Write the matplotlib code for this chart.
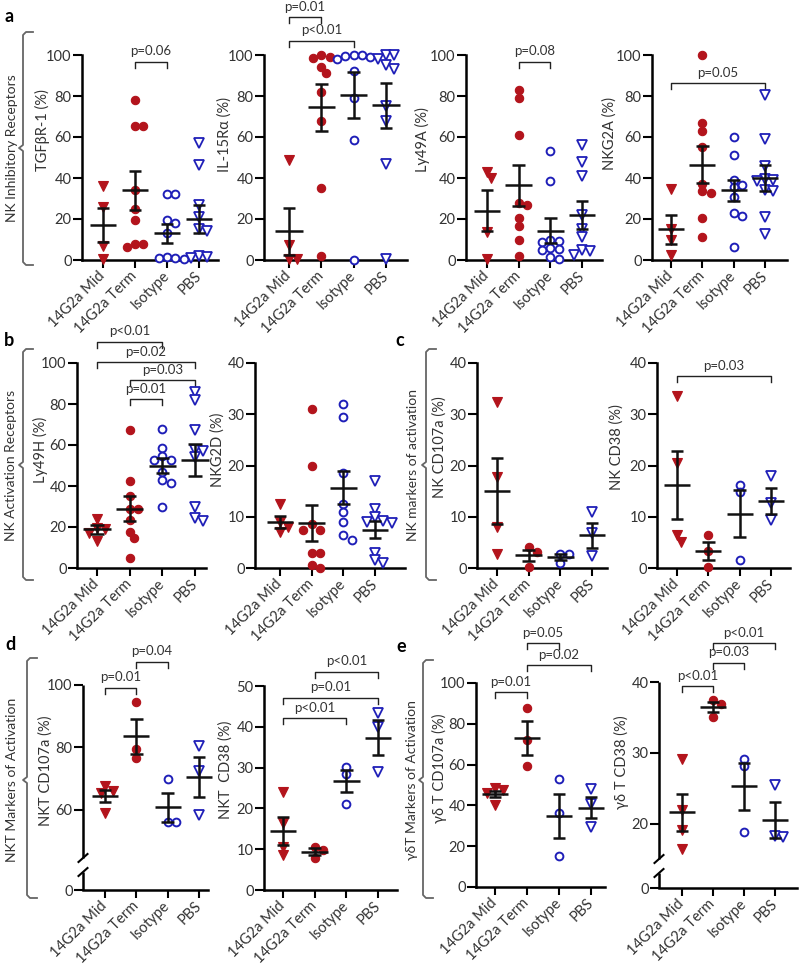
import numpy as np
import matplotlib
matplotlib.use('Agg')
import matplotlib.pyplot as plt
from matplotlib.lines import Line2D

plt.rcParams['font.family'] = ['Lato', 'DejaVu Sans']

groups = ['14G2a Mid', '14G2a Term', 'Isotype', 'PBS']

# a: NK inhibitory receptors
tgfbr1_pts = [[36, 26, 7, 0.5],
              [78, 65.5, 65.5, 34, 25, 19.5, 8, 8, 6.5],
              [32, 32, 19.5, 18, 13, 1.5, 1, 1, 0.5],
              [57, 46.5, 27, 21, 15, 14, 2, 1.5, 1]]
tgfbr1_mean = [17, 34, 13, 20]
tgfbr1_sem = [8.3, 9.4, 4.5, 7]

il15ra_pts = [[49, 7.5, 0.5, 0.5],
              [100, 99, 98.5, 94, 91, 82, 68, 35, 2],
              [100, 100, 99.5, 99, 98, 92, 79, 58.5, 0],
              [100, 100, 98, 95, 93, 75, 68, 47, 0.5]]
il15ra_mean = [14, 74.5, 80.5, 75.5]
il15ra_sem = [11.5, 11.5, 11, 11]

ly49a_pts = [[40, 43, 13.5, 0.5],
             [83, 79, 61, 28, 27, 20.5, 16.5, 10, 2],
             [53, 38.5, 10, 9.5, 9, 6, 5.5, 5, 1.5, 0.5],
             [56, 48, 41, 22, 15, 11, 5, 4.5, 2.5]]
ly49a_mean = [24, 36.5, 14.3, 22]
ly49a_sem = [10, 10, 6, 7]

nkg2a_pts = [[34.5, 15, 10, 2.5],
             [100, 67, 63, 55, 37, 33.5, 32.5, 20.5, 11],
             [60, 51, 39, 36.5, 35.5, 30.5, 23, 21.5, 6.5],
             [80.5, 59, 46, 39.5, 39, 38.5, 34, 33.5, 21, 12.5]]
nkg2a_mean = [15, 46.5, 34, 40]
nkg2a_sem = [7, 9, 5, 6.5]

# b: NK activation receptors
ly49h_pts = [[24, 19.5, 19, 17, 13],
             [67.5, 42.5, 35, 29, 29, 23.5, 17.5, 14.5, 5],
             [68, 58.5, 54.5, 52.5, 52.5, 47, 43, 41.5, 30],
             [86, 82, 67.5, 57.5, 57, 54, 30, 24.5, 23]]
ly49h_mean = [18.8, 29, 50, 52.5]
ly49h_sem = [2, 6, 3.5, 7.8]

nkg2d_pts = [[12.5, 9, 8, 7],
             [31, 20, 8.5, 7.5, 7.5, 3, 3, 0.5, 0],
             [32, 29.5, 18.5, 12.5, 11, 9, 6.5, 5.5],
             [17, 11.5, 10, 9.2, 9, 8.7, 3, 1.5, 1]]
nkg2d_mean = [9, 8.8, 15.7, 7.5]
nkg2d_sem = [1.2, 3.5, 3.2, 1.7]

# c: NK markers of activation
nk_cd107a_pts = [[32.3, 17.7, 8, 2.7], [4.1, 3.1, 0.2], [2.8, 2.8, 1], [11, 6.8, 2.3]]
nk_cd107a_mean = [15, 2.5, 2.1, 6.4]
nk_cd107a_sem = [6.5, 1.1, 0.6, 2.4]

nk_cd38_pts = [[33.5, 20.5, 6.4, 5.1], [6.4, 3.3, 0.2], [16.2, 14.8, 1.6], [18, 12.6, 9.3]]
nk_cd38_mean = [16.2, 3.3, 10.6, 13.1]
nk_cd38_sem = [6.6, 1.7, 4.6, 2.6]

# d: NKT markers of activation
nkt_cd107a_pts = [[67.5, 66, 65.5, 59], [94.5, 79.5, 76.5], [70, 56, 56], [80.5, 72.5, 58.5]]
nkt_cd107a_mean = [64.4, 83.5, 60.8, 70.5]
nkt_cd107a_sem = [1.9, 5.5, 4.6, 6.5]

nkt_cd38_pts = [[24, 16.5, 10.5, 8.5], [10.5, 9.8, 7.9], [30.2, 28.4, 21.2], [43.5, 40, 28.8]]
nkt_cd38_mean = [14.5, 9.4, 26.6, 37.3]
nkt_cd38_sem = [3.5, 0.8, 2.7, 4.3]

# e: gamma delta T markers of activation
gdt_cd107a_pts = [[48.5, 47.5, 46, 40], [87.8, 72, 59.3], [52.8, 36.5, 15.3], [47.9, 40.7, 29.6]]
gdt_cd107a_mean = [45.6, 73, 34.9, 38.8]
gdt_cd107a_sem = [1.4, 8.2, 10.9, 5.2]

gdt_cd38_pts = [[29.1, 21.9, 19.1, 16.5], [37.5, 36.9, 35], [29.2, 28.1, 18.8], [25.5, 18.1, 18.2]]
gdt_cd38_mean = [21.6, 36.5, 25.3, 20.5]
gdt_cd38_sem = [2.6, 0.7, 3.3, 2.5]

# significance brackets: (group i, group j, height, text)
tgfbr1_sig = [(1, 2, 96.7, 'p=0.06')]
il15ra_sig = [(0, 1, 118.4, 'p=0.01'), (0, 2, 107, 'p<0.01')]
ly49a_sig = [(1, 2, 96.7, 'p=0.08')]
nkg2a_sig = [(0, 3, 86.2, 'p=0.05')]
ly49h_sig = [(0, 2, 110.3, 'p<0.01'), (0, 3, 100.5, 'p=0.02'),
             (1, 3, 91.5, 'p=0.03'), (1, 2, 82.4, 'p=0.01')]
nk_cd38_sig = [(0, 3, 37.4, 'p=0.03')]
nkt_cd107a_sig = [(0, 1, 99.1, 'p=0.01'), (1, 2, 107.5, 'p=0.04')]
nkt_cd38_sig = [(0, 2, 42.1, 'p<0.01'), (0, 3, 47.1, 'p=0.01'), (1, 3, 53.5, 'p<0.01')]
gdt_cd107a_sig = [(0, 1, 95.6, 'p=0.01'), (1, 3, 108.6, 'p=0.02'), (1, 2, 119.5, 'p=0.05')]
gdt_cd38_sig = [(0, 1, 39.4, 'p<0.01'), (1, 2, 42.7, 'p=0.03'), (1, 3, 45.5, 'p<0.01')]

RED = '#b3141c'
BLUE = '#1f1fb8'
TXT = '#333333'
styles = [dict(marker='v', mfc=RED, mec=RED, mew=0.8, ms=6.5),
          dict(marker='o', mfc=RED, mec=RED, mew=0.8, ms=6),
          dict(marker='o', mfc='white', mec=BLUE, mew=1.4, ms=5.6),
          dict(marker='v', mfc='white', mec=BLUE, mew=1.3, ms=6.5)]

W, H = 800, 967
fig = plt.figure(figsize=(W / 100, H / 100), dpi=100)


def swarm(ax, x0, vals, diam=7.6):
    ys = ax.transData.transform(np.column_stack([np.full(len(vals), x0), vals]))[:, 1]
    placed, offs = [], np.zeros(len(vals))
    for i in np.argsort(-np.asarray(vals, float), kind='stable'):
        for k in [0, 1, -1, 2, -2, 3, -3, 4, -4, 5, -5]:
            off = k * diam * 0.55
            if all((off - px) ** 2 + (ys[i] - py) ** 2 >= diam ** 2 * 0.8 for px, py in placed):
                break
        placed.append((off, ys[i]))
        offs[i] = off
    sp = ax.transData.transform([(1, 0)])[0, 0] - ax.transData.transform([(0, 0)])[0, 0]
    return x0 + offs / sp


def bracket(ax, i, j, y, label):
    yd = ax.transData.transform([(0, y)])[0, 1]
    y2 = ax.transData.inverted().transform([(0, yd - 6)])[0, 1]
    ax.plot([i, i, j, j], [y2, y, y, y2], color='#222222', lw=1.0, clip_on=False)
    ax.annotate(label, xy=((i + j) / 2, y), xytext=(0, 7.5), textcoords='offset points',
                ha='center', va='center', fontsize=9.5, color=TXT, annotation_clip=False)


def panel(box, pts, mean, sem, ylim, yticks, ylabel, lab_xy, sig=(), brk=None):
    left, right, top, bottom, c0, c3 = box
    ax = fig.add_axes([left / W, 1 - bottom / H, (right - left) / W, (bottom - top) / H])
    sp = (c3 - c0) / 3
    ax.set_xlim((left - c0) / sp, 3 + (right - c3) / sp)
    if brk is not None:
        b, lo, hi, g1, g2 = brk
        fwd = lambda v: np.where(v < b, v * lo, b * lo + (v - b) * hi)
        inv = lambda f: np.where(f < b * lo, f / lo, b + (f - b * lo) / hi)
        ax.set_yscale('function', functions=(fwd, inv))
    ax.set_ylim(*ylim)
    ax.set_yticks(yticks)
    ax.set_xticks(range(4))
    ax.set_xticklabels(groups, rotation=45, ha='right', va='center', rotation_mode='anchor',
                       fontsize=10.5, color=TXT)
    ax.tick_params(axis='y', labelsize=10.5, labelcolor=TXT, length=6.5, width=1.5, pad=1)
    ax.tick_params(axis='x', length=6, width=1.5, pad=4)
    for s in ['top', 'right']:
        ax.spines[s].set_visible(False)
    for s in ['left', 'bottom']:
        ax.spines[s].set_linewidth(1.8)
    if brk is not None:
        ax.spines['left'].set_visible(False)
        kw = dict(transform=ax.transAxes, color='black', lw=1.8, clip_on=False)
        ax.plot([0, 0], [0, g1], solid_capstyle='butt', **kw)
        ax.plot([0, 0], [g2, 1], solid_capstyle='butt', **kw)
        dx = 4.5 / (right - left)
        dy = 4.0 / (bottom - top)
        for g in (g1, g2):
            ax.plot([-dx, dx], [g - dy, g + dy], **dict(kw, lw=1.5))
    for k in range(4):
        xs = swarm(ax, k, pts[k])
        ax.plot(xs, pts[k], ls='none', clip_on=False, zorder=3, **styles[k])
        m, s = mean[k], sem[k]
        lk = dict(color='#111111', lw=1.8, zorder=4, clip_on=False, solid_capstyle='butt')
        ax.plot([k - 0.42, k + 0.42], [m, m], **lk)
        ax.plot([k, k], [m - s, m + s], **lk)
        ax.plot([k - 0.2, k + 0.2], [m - s, m - s], **lk)
        ax.plot([k - 0.2, k + 0.2], [m + s, m + s], **lk)
    for i, j, y, lab in sig:
        bracket(ax, i, j, y, lab)
    fig.text(lab_xy[0] / W, 1 - lab_xy[1] / H, ylabel, rotation=90, ha='center', va='center',
             fontsize=10.5, color=TXT)
    return ax


t5 = [0, 20, 40, 60, 80, 100]
t4 = [0, 10, 20, 30, 40]
panel((82, 218, 55, 260, 103, 199), tgfbr1_pts, tgfbr1_mean, tgfbr1_sem, (0, 100), t5,
      'TGFβR-1 (%)', (42, 130), tgfbr1_sig)
panel((264, 407, 55, 260, 289, 386), il15ra_pts, il15ra_mean, il15ra_sem, (0, 100), t5,
      'IL-15Rα (%)', (225, 135), il15ra_sig)
panel((466, 602, 55, 260, 487, 582), ly49a_pts, ly49a_mean, ly49a_sem, (0, 100), t5,
      'Ly49A (%)', (422, 140), ly49a_sig)
panel((652, 787, 55, 260, 671, 765), nkg2a_pts, nkg2a_mean, nkg2a_sem, (0, 100), t5,
      'NKG2A (%)', (610, 133), nkg2a_sig)

panel((77, 206, 363, 568, 97, 195), ly49h_pts, ly49h_mean, ly49h_sem, (0, 100), t5,
      'Ly49H (%)', (40, 450), ly49h_sig)
panel((255, 405, 363, 568, 280, 375), nkg2d_pts, nkg2d_mean, nkg2d_sem, (0, 40), t4,
      'NKG2D (%)', (218, 450))
panel((477, 607, 363, 568, 497, 592), nk_cd107a_pts, nk_cd107a_mean, nk_cd107a_sem, (0, 40), t4,
      'NK CD107a (%)', (440, 447))
panel((657, 790, 363, 568, 677, 771), nk_cd38_pts, nk_cd38_mean, nk_cd38_sem, (0, 40), t4,
      'NK CD38 (%)', (617, 447), nk_cd38_sig)

panel((83, 208, 685, 890, 105, 199), nkt_cd107a_pts, nkt_cd107a_mean, nkt_cd107a_sem, (0, 100),
      [0, 60, 80, 100], 'NKT CD107a (%)', (46, 771), nkt_cd107a_sig,
      brk=(50, 0.98, 3.125, 18 / 205, 32 / 205))
panel((264, 397, 686, 890, 283, 378), nkt_cd38_pts, nkt_cd38_mean, nkt_cd38_sem, (0, 50),
      [0, 10, 20, 30, 40, 50], 'NKT  CD38 (%)', (226, 770), nkt_cd38_sig)
panel((476, 605, 683, 887, 495, 591), gdt_cd107a_pts, gdt_cd107a_mean, gdt_cd107a_sem, (0, 100),
      t5, 'γδ T CD107a (%)', (439, 768), gdt_cd107a_sig)
panel((659, 797, 682, 888, 682, 775), gdt_cd38_pts, gdt_cd38_mean, gdt_cd38_sem, (0, 40),
      [0, 20, 30, 40], 'γδ T CD38 (%)', (621, 762), gdt_cd38_sig,
      brk=(15, 1.913, 7.05, 15 / 206, 29 / 206))

# group brackets on the left of each row
def group_bracket(x, top, mid, bot, label, lx):
    xs = [x + 10, x + 3, x, x, x - 4, x, x, x + 3, x + 10]
    ys = [top, top, top + 3, mid - 3, mid, mid + 3, bot - 3, bot, bot]
    fig.add_artist(Line2D([v / W for v in xs], [1 - v / H for v in ys], color='#666666', lw=1.3,
                          transform=fig.transFigure))
    fig.text(lx / W, 1 - mid / H, label, rotation=90, ha='center', va='center', fontsize=10,
             color=TXT)


group_bracket(23, 32, 148, 265, 'NK Inhibitory Receptors', 12)
group_bracket(23, 349, 465, 580, 'NK Activation Receptors', 11)
group_bracket(426, 349, 465, 580, 'NK markers of activation', 413)
group_bracket(27, 658, 780, 898, 'NKT Markers of Activation', 12)
group_bracket(423, 660, 780, 898, 'γδT Markers of Activation', 412)

for letter, (x, y) in {'a': (9, 17), 'b': (9, 340), 'c': (400, 340),
                       'd': (10, 645), 'e': (401, 646)}.items():
    fig.text(x / W, 1 - y / H, letter, fontsize=13, fontweight='bold', ha='center', va='center')

fig.savefig('out.png', dpi=100)
